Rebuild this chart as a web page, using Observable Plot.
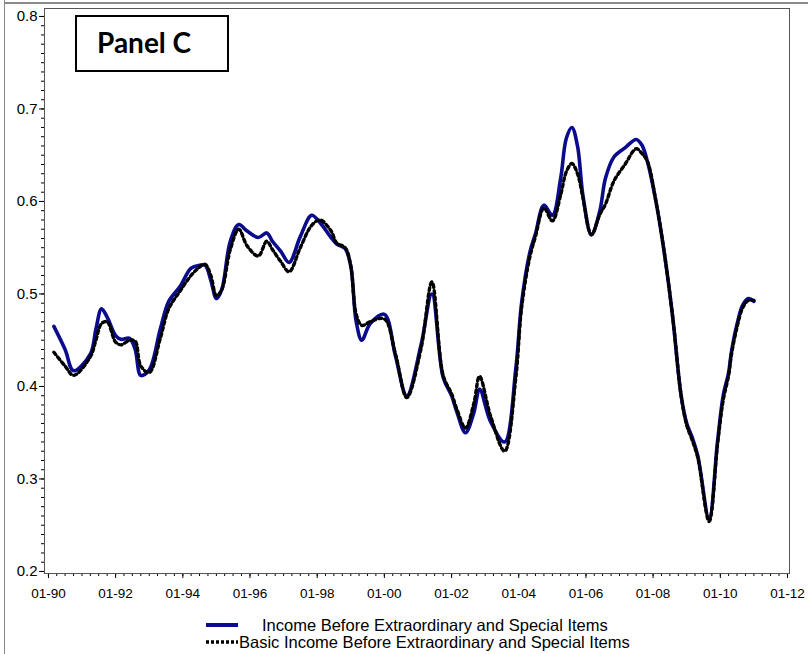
<!DOCTYPE html>
<html>
<head>
<meta charset="utf-8">
<script src="https://cdn.jsdelivr.net/npm/d3@7"></script>
<script src="https://cdn.jsdelivr.net/npm/@observablehq/plot@0.6"></script>
<style>
  body { margin: 0; background: #fff; font-family: "Liberation Sans", Arial, sans-serif; }
  #wrap { position: relative; width: 808px; height: 654px; overflow: hidden; background: #fff; }
  #chart { position: absolute; left: 0; top: 0; }
  .edge-top { position: absolute; left: 4px; top: 2px; width: 804px; height: 0; border-top: 2px solid #8a8a8a; }
  .edge-left { position: absolute; left: 4px; top: 0; width: 0; height: 654px; border-left: 1px solid #8a8a8a; }
  .panel-box { position: absolute; left: 75px; top: 15px; width: 154px; height: 57px; box-sizing: border-box; border: 2px solid #000; background: #fff; }
  .panel-label { position: absolute; left: 97px; top: 22px; font-family: Lato, "Open Sans", sans-serif; font-weight: 700; font-size: 28px; line-height: 40px; color: #000; white-space: nowrap; }
  .legend { position: absolute; left: 0; top: 612px; width: 808px; height: 42px; }
  .legend svg { position: absolute; left: 0; top: 0; }
  .legend span { position: absolute; font-size: 16.5px; line-height: 18px; color: #000; white-space: nowrap; }
</style>
</head>
<body>
<div id="wrap">
  <div id="chart"></div>
  <div class="edge-top"></div>
  <div class="edge-left"></div>
  <div class="panel-box"></div>
  <div class="panel-label">Panel C</div>
  <div class="legend" id="legend"></div>
</div>
<script>
// Observation months (YYYY-MM) and the two ratios plotted against them
const months = [
  "1990-03","1990-07","1990-10","1991-04","1991-06","1991-08","1991-10","1992-01","1992-03","1992-06",
  "1992-08","1992-10","1993-01","1993-05","1993-08","1993-12","1994-04","1994-07","1994-09","1994-11",
  "1995-01","1995-03","1995-06","1995-09","1995-12","1996-04","1996-07","1996-09","1996-12","1997-03",
  "1997-07","1997-11","1998-02","1998-06","1998-08","1998-11","1999-01","1999-03","1999-05","1999-08",
  "2000-01","2000-05","2000-09","2001-02","2001-06","2001-10","2002-01","2002-03","2002-06","2002-09",
  "2002-11","2003-03","2003-08","2003-12","2004-02","2004-05","2004-07","2004-10","2005-01","2005-04",
  "2005-06","2005-08","2005-10","2005-12","2006-03","2006-06","2006-08","2006-11","2007-03","2007-07",
  "2007-09","2007-11","2008-02","2008-05","2008-08","2008-11","2009-01","2009-03","2009-05","2009-09",
  "2009-12","2010-02","2010-04","2010-05","2010-07","2010-09","2010-11","2011-01"
];
const incomeBefore = [
  0.465,0.440,0.417,0.435,0.462,0.484,0.475,0.455,0.451,0.452,
  0.440,0.412,0.418,0.462,0.492,0.508,0.528,0.531,0.531,0.515,
  0.495,0.505,0.557,0.575,0.568,0.561,0.566,0.557,0.546,0.534,
  0.562,0.585,0.577,0.561,0.554,0.549,0.530,0.470,0.450,0.468,
  0.478,0.433,0.390,0.444,0.500,0.410,0.390,0.372,0.350,0.372,
  0.397,0.362,0.340,0.420,0.490,0.545,0.565,0.596,0.585,0.625,
  0.668,0.680,0.660,0.605,0.564,0.590,0.625,0.648,0.658,0.667,
  0.661,0.643,0.600,0.545,0.475,0.390,0.360,0.345,0.325,0.257,
  0.340,0.390,0.415,0.437,0.467,0.488,0.495,0.492
];
const basicIncome = [
  0.437,0.422,0.412,0.432,0.450,0.468,0.470,0.448,0.445,0.450,
  0.449,0.422,0.415,0.452,0.484,0.503,0.520,0.529,0.532,0.520,
  0.498,0.505,0.548,0.570,0.552,0.541,0.557,0.548,0.535,0.524,
  0.550,0.574,0.580,0.568,0.555,0.550,0.530,0.478,0.466,0.470,
  0.473,0.435,0.388,0.440,0.513,0.412,0.392,0.375,0.355,0.382,
  0.411,0.368,0.330,0.410,0.485,0.540,0.562,0.593,0.579,0.607,
  0.632,0.641,0.630,0.603,0.564,0.586,0.597,0.622,0.640,0.657,
  0.652,0.643,0.600,0.545,0.475,0.390,0.358,0.342,0.323,0.254,
  0.337,0.385,0.412,0.434,0.464,0.485,0.493,0.493
];
const seriesNames = [
  "Income Before Extraordinary and Special Items",
  "Basic Income Before Extraordinary and Special Items"
];
const yTickValues = [0.2, 0.3, 0.4, 0.5, 0.6, 0.7, 0.8];
const xTickYears = [1990, 1992, 1994, 1996, 1998, 2000, 2002, 2004, 2006, 2008, 2010, 2012];

const parseMonth = d3.utcParse("%Y-%m");
const rows = months.flatMap((m, i) => [
  {date: parseMonth(m), value: incomeBefore[i], series: seriesNames[0]},
  {date: parseMonth(m), value: basicIncome[i], series: seriesNames[1]}
]);

const xMajor = xTickYears.map(y => new Date(Date.UTC(y, 0, 1)));
const xMinor = d3.utcMonth.every(3).range(new Date(Date.UTC(1990, 0, 1)), new Date(Date.UTC(2012, 0, 2)));
const yMinor = d3.range(20, 81).map(v => v / 100);

const blue = "#0b0b8e";

const chart = Plot.plot({
  width: 808,
  height: 612,
  marginLeft: 44,
  marginRight: 19,
  marginTop: 8,
  marginBottom: 39,
  style: {fontFamily: "'Liberation Sans', Arial, sans-serif", fontSize: "14px", color: "#000", background: "transparent"},
  x: {type: "utc", domain: [new Date(Date.UTC(1989, 10, 19)), new Date(Date.UTC(2012, 0, 23))], label: null},
  y: {domain: [0.1978, 0.8086], label: null},
  marks: [
    Plot.axisX({ticks: xMinor, tickSize: 3, tickFormat: () => "", label: null, stroke: "#000"}),
    Plot.axisX({ticks: xMajor, tickSize: 5, tickPadding: 10, tickFormat: d3.utcFormat("%m-%y"), label: null, stroke: "#000", fontSize: 13.5}),
    Plot.axisY({ticks: yMinor, tickSize: 3, tickFormat: () => "", label: null, stroke: "#000"}),
    Plot.axisY({ticks: yTickValues, tickSize: 5, tickPadding: 2, tickFormat: d3.format(".1f"), label: null, stroke: "#000", fontSize: 15}),
    Plot.line(rows.filter(d => d.series === seriesNames[0]), {
      x: "date", y: "value", stroke: blue, strokeWidth: 3.6, curve: "catmull-rom"
    }),
    Plot.line(rows.filter(d => d.series === seriesNames[1]), {
      x: "date", y: "value", stroke: "#000", strokeWidth: 3.4, strokeDasharray: "3,3.2", curve: "catmull-rom"
    }),
    Plot.frame({stroke: "#555"})
  ]
});
document.getElementById("chart").appendChild(chart);

// Legend below the plot: a swatch and a label for each series
const legend = d3.select("#legend");
const sw = legend.append("svg").attr("width", 808).attr("height", 42);
sw.append("line").attr("x1", 206).attr("x2", 238).attr("y1", 13).attr("y2", 13)
  .attr("stroke", blue).attr("stroke-width", 4);
sw.append("line").attr("x1", 206).attr("x2", 238).attr("y1", 30).attr("y2", 30)
  .attr("stroke", "#000").attr("stroke-width", 3.4).attr("stroke-dasharray", "3,2");
legend.append("span").style("left", "262px").style("top", "4px").text(seriesNames[0]);
legend.append("span").style("left", "239px").style("top", "21px").text(seriesNames[1]);
</script>
</body>
</html>
